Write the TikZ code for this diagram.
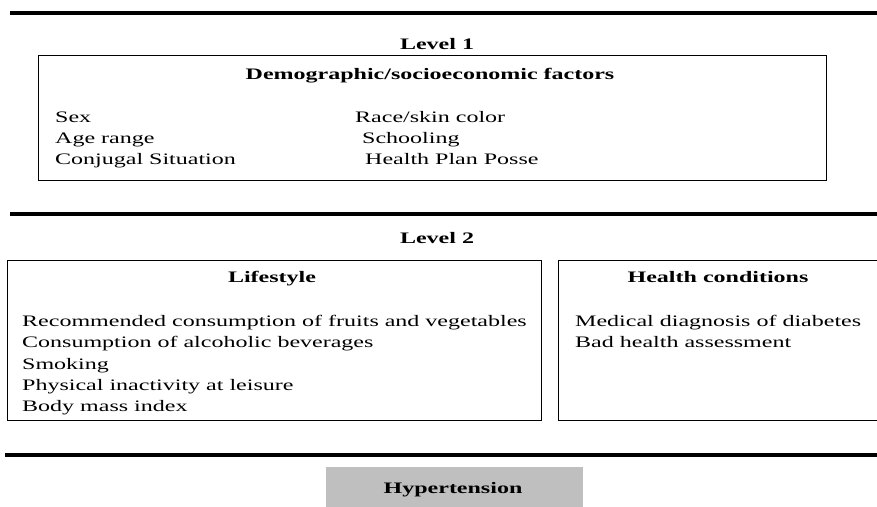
\documentclass[tikz,border=0pt]{standalone}
\usepackage{fontspec}
\setmainfont[FakeStretch=1.5]{Liberation Serif}
\usepackage{tikz}

\begin{document}
\begin{tikzpicture}[x=1pt, y=-1pt, every node/.style={inner sep=0pt, font=\fontsize{16}{19}\selectfont},
    rule/.style={line width=3.4pt},
    frame/.style={draw, line width=0.9pt},
    head/.style={anchor=base, font=\fontsize{16}{19}\selectfont\bfseries},
    item/.style={anchor=base west}]
  \useasboundingbox (0,0) rectangle (877,506);
  \clip (0,0) rectangle (877,506);
  % level 1
  \draw [rule] (10,13) -- (890,13);
  \node (lvl1) [head] at (437,49) {Level 1};
  \draw [frame] (38,55) rectangle (826,180);
  \node (demo) [head] at (430,79) {Demographic/socioeconomic factors};
  \node (sex) [item] at (55,122) {Sex};
  \node (age) [item] at (55,143) {Age range};
  \node (conj) [item] at (55,164) {Conjugal Situation};
  \node (race) [item] at (355,122) {Race/skin color};
  \node (school) [item] at (362,143) {Schooling};
  \node (plan) [item] at (365,164) {Health Plan Posse};
  % level 2
  \draw [rule] (10,214) -- (890,214);
  \node (lvl2) [head] at (437,243) {Level 2};
  \draw [frame] (7,260) rectangle (541,420);
  \draw [frame] (558,260) rectangle (900,420);
  \node (life) [head] at (272,282) {Lifestyle};
  \node (fruit) [item] at (22,326) {Recommended consumption of fruits and vegetables};
  \node (alc) [item] at (22,347) {Consumption of alcoholic beverages};
  \node (smoke) [item] at (22,369) {Smoking};
  \node (phys) [item] at (22,390) {Physical inactivity at leisure};
  \node (bmi) [item] at (22,411) {Body mass index};
  \node (health) [head] at (718,282) {Health conditions};
  \node (diab) [item] at (575,326) {Medical diagnosis of diabetes};
  \node (assess) [item] at (575,347) {Bad health assessment};
  % outcome
  \draw [rule] (5,455) -- (890,455);
  \node (hyp) [fill=black!25, minimum width=257pt, minimum height=45pt, anchor=north west] at (326,467) {};
  \node (hyplbl) [head] at (453,493) {Hypertension};
\end{tikzpicture}
\end{document}
